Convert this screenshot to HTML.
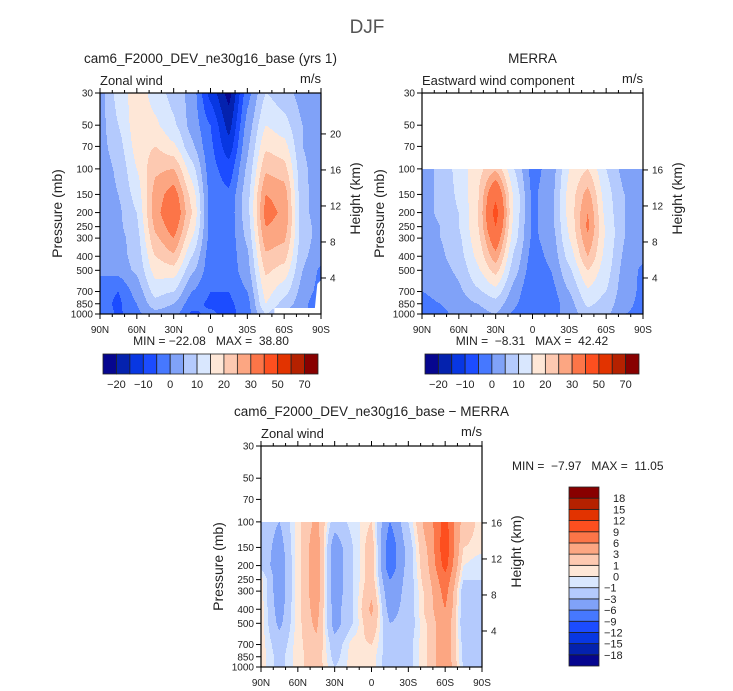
<!DOCTYPE html>
<html><head><meta charset="utf-8">
<style>
html,body{margin:0;padding:0;background:#fff;}
svg{display:block;font-family:"Liberation Sans","DejaVu Sans",sans-serif;}
text{fill:#222;white-space:pre;}
</style></head>
<body>
<svg id="fig" width="733" height="691" viewBox="0 0 733 691" xmlns="http://www.w3.org/2000/svg">
<text x="367" y="33" font-size="19" text-anchor="middle" style="fill:#555">DJF</text>
<g id="p1"></g>
<g id="p2"></g>
<g id="p3"></g>
</svg>
<script>
// ---- data ----
const latLabels = ["90N","60N","30N","0","30S","60S","90S"];
const gridLats = [90,75,60,45,30,15,0,-15,-30,-45,-60,-75,-90];
const pressLevels = [1000,850,700,500,400,300,250,200,150,100,70,50,30];
const pTickLabels = [30,50,70,100,150,200,250,300,400,500,700,850,1000];
const heightTicks = [4,8,12,16,20];
const levelsAbs = [-20,-15,-10,-5,0,5,10,15,20,25,30,40,50,60,70];
const levelsDiff = [-18,-15,-12,-9,-6,-3,-1,0,1,3,6,9,12,15,18];
const absTickLabels = ["-20","","-10","","0","","10","","20","","30","","50","","70"];
const diffTickLabels = ["-18","-15","-12","-9","-6","-3","-1","0","1","3","6","9","12","15","18"];
const palette = ["#06068f","#0422ae","#0837e2","#1c4cff","#4678ff","#80a2f8","#b4cafd","#d9e7fe","#fee7d7","#fdc9b1","#fca682","#fc7548","#fd4f1f","#e23300","#b52100","#880000"];
// model zonal wind rows: 1000 ... 30 mb, cols 90N ... 90S
const modelU = [
[-1,-6,-1,3,2,-6,-4,-7,-2,10,4,1,-4],
[-3,-6,0,8,5,-3,-6,-6,-2,15,8,2,-5],
[-3,-5,2,12,10,0,-5,-5,0,17,12,3,-2],
[1,2,6,17,18,6,-3,-3,3,21,18,5,-1],
[1,3,7,20,24,10,-3,-3,4,24,22,6,2],
[2,3,8,24,30,15,-2,-3,6,28,26,7,3],
[2,4,9,26,33,18,-2,-3,7,30,28,7,3],
[2,4,10,28,36,20,-2,-3,8,32,29,6,3],
[2,5,12,27,33,18,-2,-4,8,30,28,6,3],
[2,6,15,24,25,12,-3,-8,6,24,22,6,2],
[3,8,17,20,16,6,-4,-13,4,19,17,5,2],
[3,10,18,16,11,3,-5,-17,2,15,12,5,2],
[3,12,18,13,8,3,-12,-22,-2,10,7,3,1]
];
const merraU = [
[-1,-1,1,3,5,-1,-4,-2,2,8,6,0,-1],
[-1,0,2,5,8,1,-5,-3,3,11,8,1,-1],
[0,1,4,9,13,3,-5,-2,5,14,10,2,-1],
[1,3,6,14,22,7,-3,0,9,20,12,3,-1],
[2,4,8,16,28,9,-2,1,12,25,13,4,1],
[2,5,9,18,35,12,-1,2,15,29,14,5,2],
[2,5,10,19,40,13,-1,3,16,31,14,5,2],
[3,6,10,19,43,14,-1,3,17,30,13,5,2],
[3,6,11,19,38,14,-1,3,17,27,12,5,2],
[3,6,12,18,24,10,-2,2,15,20,10,3,2]
];
const diffU = [
[0.5,-1.5,0.5,2,-1,0.5,0.5,-2,-1.5,1,5,-1,-1],
[0.5,-1.5,0.5,2,-1.5,0.5,0.5,-2,-1.5,1,5,-1.5,-1.5],
[0.5,-2,0.5,2.5,-2,0.5,1,-2,-1.5,1,5,-1.5,-1],
[0.5,-3.5,0.5,3.5,-4,-1,2.5,-3,-2,1,5,-2,-1],
[0.5,-4,0.5,4,-4,-1,3.5,-4,-2,1.5,6,-2,-1],
[0.5,-4.5,0.5,4.5,-4.5,-1,2.5,-5,-2,1.5,7,-2,-1],
[0.5,-4.5,0.5,4.5,-4.5,-1,2,-6,-2,2,8,-1,-1],
[-1.5,-4.5,0.5,4.5,-4.5,-1,2,-8,-2,2.5,10,0,-1],
[-1.5,-4,0.5,4.5,-4.5,-1,2,-8,-2,3,11,1,0.5],
[-1.5,-3,0.5,3.5,-2,-0.5,1,-6,-1,4,10,2,0.5]
];

const NS="http://www.w3.org/2000/svg";
function mk(tag, attrs, parent){const e=document.createElementNS(NS,tag);for(const k in attrs)e.setAttribute(k,attrs[k]);parent.appendChild(e);return e;}
const LN=Math.log(1000/30);

function drawPanel(g, cfg){
  const x0=cfg.x0,y0=cfg.y0,W=221,H=221;
  const yOfP=p=>y0+H*Math.log(p/30)/LN;
  const xOfLat=lat=>x0+W*(90-lat)/180;
  const grid=cfg.grid, nRows=grid.length;
  const pTop=pressLevels[nRows-1];
  function val(lat,p){
    const fi=(90-lat)/15; let i=Math.min(11,Math.max(0,Math.floor(fi))); let tx=fi-i;
    tx=tx*tx*(3-2*tx)*0.35+tx*0.65;
    const lp=Math.log(p); let j=0;
    while(j<nRows-2 && Math.log(pressLevels[j+1])>lp) j++;
    const a=Math.log(pressLevels[j]),b=Math.log(pressLevels[j+1]);
    let ty=(a-lp)/(a-b); ty=Math.max(0,Math.min(1,ty));
    const v00=grid[j][i],v01=grid[j][i+1],v10=grid[j+1][i],v11=grid[j+1][i+1];
    return (v00*(1-tx)+v01*tx)*(1-ty)+(v10*(1-tx)+v11*tx)*ty;
  }
  const lev=cfg.levels;
  const cls=v=>{let k=0;while(k<lev.length&&v>=lev[k])k++;return k;};
  const field=mk('g',{},g);
  
  
  const yStart=Math.round(yOfP(pTop));
  for(let y=yStart;y<y0+H;y++){
    const p=30*Math.exp((y+0.5-y0)/H*LN);
    let runStart=x0,runC=-1;
    for(let x=x0;x<=x0+W;x++){
      let c=-2;
      if(x<x0+W){const lat=90-(x+0.5-x0)/W*180;c=cls(val(lat,p));}
      if(c!==runC){
        if(runC>=0){const r=mk('rect',{x:runStart,y:y,width:x-runStart,height:1,fill:palette[runC]},field);r.setAttribute('shape-rendering','crispEdges');}
        runStart=x;runC=c;
      }
    }
  }
  if(cfg.wedge){mk('polygon',{points:`${xOfLat(-52)},${y0+H} ${xOfLat(-52)},${y0+H-6} ${xOfLat(-85)},${y0+H-6} ${xOfLat(-87)},${y0+H-30} ${xOfLat(-90)},${y0+H-34} ${xOfLat(-90)},${y0+H}`,fill:'#fff'},field);}
  const fr=mk('rect',{x:x0,y:y0,width:W,height:H,fill:'none',stroke:'#000','stroke-width':1.2},g);
  
  
  pTickLabels.forEach(p=>{const y=yOfP(p);
    mk('line',{x1:x0-5,x2:x0,y1:y,y2:y,stroke:'#000'},g);
    const t=mk('text',{x:x0-7,y:y+3.5,'font-size':10,'text-anchor':'end'},g);t.textContent=p;
    
    });
  heightTicks.forEach(z=>{const p=1000*Math.exp(-z/7); if(p<pTop-0.5)return; const y=yOfP(p);
    mk('line',{x1:x0+W,x2:x0+W+5,y1:y,y2:y,stroke:'#000'},g);
    const t=mk('text',{x:x0+W+9,y:y+3.5,'font-size':10},g);t.textContent=z;
    
    });
  for(let lat=90;lat>=-90;lat-=10){const x=xOfLat(lat);const maj=lat%30===0;
    mk('line',{x1:x,x2:x,y1:y0+H,y2:y0+H+(maj?5:3),stroke:'#000'},g);
    mk('line',{x1:x,x2:x,y1:y0,y2:y0-(maj?5:3),stroke:'#000'},g);}
  latLabels.forEach((s,k)=>{const t=mk('text',{x:x0+k*W/6,y:y0+H+19,'font-size':10,'text-anchor':'middle'},g);t.textContent=s;
    
    });
  let t=mk('text',{x:0,y:0,'font-size':14,'text-anchor':'middle',transform:`translate(${x0-38},${y0+H/2+10}) rotate(-90)`},g);t.textContent='Pressure (mb)';
  
  
  t=mk('text',{x:0,y:0,'font-size':14,'text-anchor':'middle',transform:`translate(${x0+W+39},${y0+H/2-5}) rotate(-90)`},g);t.textContent='Height (km)';
  
  
  t=mk('text',{x:x0,y:y0-8,'font-size':13},g);t.textContent=cfg.left;
  
  
  t=mk('text',{x:x0+W,y:y0-10,'font-size':13,'text-anchor':'end'},g);t.textContent='m/s';
  
  
  t=mk('text',{x:cfg.titleX||x0+W/2,y:y0-30,'font-size':13.5,'text-anchor':'middle'},g);t.textContent=cfg.title;
  
  
  t=mk('text',{x:cfg.mmX,y:cfg.mmY,'font-size':12,'text-anchor':cfg.mmAnchor},g);t.textContent=cfg.minmax;
  
  
}
function hBar(g,x0,y0,w,h,labels){
  const bw=w/palette.length;
  const cb=mk('g',{},g);
  
  
  palette.forEach((c,k)=>{const r=mk('rect',{x:x0+k*bw,y:y0,width:bw,height:h,fill:c,stroke:'#222','stroke-width':0.8},cb);
    
    });
  labels.forEach((s,k)=>{if(!s)return;const t=mk('text',{x:x0+(k+1)*bw,y:y0+h+14,'font-size':11,'text-anchor':'middle'},cb);t.textContent=s.replace('-','\u2212');
    
    });
}
function vBar(g,x0,y0,w,h,labels){
  const bh=h/palette.length;
  const cb=mk('g',{},g);
  
  
  palette.forEach((c,k)=>{const r=mk('rect',{x:x0,y:y0+h-(k+1)*bh,width:w,height:bh,fill:c,stroke:'#222','stroke-width':0.8},cb);
    
    });
  labels.forEach((s,k)=>{const t=mk('text',{x:x0+w+(s.startsWith('-')?5:14),y:y0+h-(k+1)*bh+4,'font-size':11},cb);t.textContent=s.replace('-','\u2212');
    
    });
}
drawPanel(document.getElementById('p1'),{x0:100,y0:93,grid:modelU,levels:levelsAbs,left:'Zonal wind',title:'cam6_F2000_DEV_ne30g16_base (yrs 1)',minmax:'MIN = \u221222.08   MAX =  38.80',mmX:211,mmY:345,mmAnchor:'middle',wedge:true});
drawPanel(document.getElementById('p2'),{x0:422,y0:93,grid:merraU,levels:levelsAbs,left:'Eastward wind component',title:'MERRA',minmax:'MIN =  \u22128.31   MAX =  42.42',mmX:532,mmY:345,mmAnchor:'middle'});
drawPanel(document.getElementById('p3'),{x0:261,y0:446,grid:diffU,levels:levelsDiff,left:'Zonal wind',title:'cam6_F2000_DEV_ne30g16_base \u2212 MERRA',minmax:'MIN =  \u22127.97   MAX =  11.05',mmX:512,mmY:470,mmAnchor:'start'});
hBar(document.getElementById('p1'),103,354,215,20,absTickLabels);
hBar(document.getElementById('p2'),425,354,214,20,absTickLabels);
vBar(document.getElementById('p3'),569,487,30,179,diffTickLabels);
</script>
</body></html>
